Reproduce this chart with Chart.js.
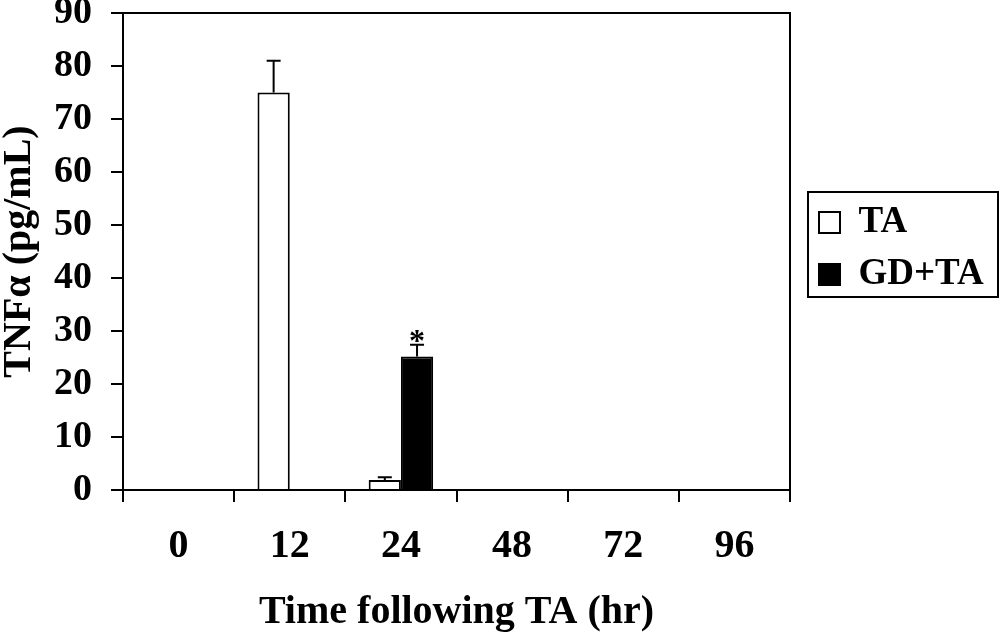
<!DOCTYPE html>
<html>
<head>
<meta charset="utf-8">
<title>TNFα following TA</title>
<script src="https://cdn.jsdelivr.net/npm/chart.js@4.4.1/dist/chart.umd.min.js"></script>
<style>
  html, body { margin: 0; padding: 0; background: #fff; }
  #wrap { width: 1000px; height: 635px; }
</style>
</head>
<body>
<div id="wrap"><canvas id="tnfChart"></canvas></div>
<script>
// values (pg/mL), null = no bar drawn
const timeLabels = ["0", "12", "24", "48", "72", "96"];
const taValues = [null, 75, 1.9, null, null, null];
const taErrors = [null, 6, 0.5, null, null, null];
const gdTaValues = [null, null, 25.2, null, null, null];
const gdTaErrors = [null, null, 2.2, null, null, null];
const gdTaMarks = [null, null, "*", null, null, null];
const yMin = 0;
const yMax = 90;
const yStep = 10;

const serif = "'Liberation Serif', 'Times New Roman', serif";

// one-sided (upper) error bars plus the significance star
const errorBars = {
  id: "errorBars",
  afterDatasetsDraw(chart) {
    const ctx = chart.ctx;
    const yScale = chart.scales.y;
    ctx.save();
    ctx.strokeStyle = "#000";
    ctx.lineWidth = 2;
    chart.data.datasets.forEach((ds, di) => {
      const meta = chart.getDatasetMeta(di);
      ds.errors.forEach((err, i) => {
        if (err == null || ds.data[i] == null) return;
        const bar = meta.data[i];
        const yTop = yScale.getPixelForValue(ds.data[i] + err);
        ctx.beginPath();
        ctx.moveTo(bar.x, bar.y);
        ctx.lineTo(bar.x, yTop);
        ctx.moveTo(bar.x - 7, yTop);
        ctx.lineTo(bar.x + 7, yTop);
        ctx.stroke();
        if (ds.marks && ds.marks[i]) {
          ctx.fillStyle = "#000";
          ctx.font = "bold 32px " + serif;
          ctx.textAlign = "center";
          ctx.textBaseline = "alphabetic";
          ctx.fillText(ds.marks[i], bar.x, yTop + 6);
        }
      });
    });
    ctx.restore();
  }
};

// top and right edges of the plot frame, box around the legend
const frames = {
  id: "frames",
  afterLayout(chart) {
    const lg = chart.legend;
    lg.left = 804;
    lg.right = 1000;
    lg.top = 189;
    lg.bottom = 635;
    lg.width = lg.right - lg.left;
    lg.height = lg.bottom - lg.top;
  },
  afterDraw(chart) {
    const ctx = chart.ctx;
    const a = chart.chartArea;
    ctx.save();
    ctx.strokeStyle = "#000";
    ctx.lineWidth = 2;
    ctx.beginPath();
    ctx.moveTo(a.left, a.top);
    ctx.lineTo(a.right, a.top);
    ctx.lineTo(a.right, a.bottom);
    ctx.stroke();
    ctx.strokeRect(808, 192, 190, 105);
    ctx.restore();
  }
};

new Chart(document.getElementById("tnfChart").getContext("2d"), {
  type: "bar",
  data: {
    labels: timeLabels,
    datasets: [
      {
        label: "TA",
        data: taValues,
        errors: taErrors,
        backgroundColor: "#fff",
        borderColor: "#000",
        borderWidth: 2,
      },
      {
        label: "GD+TA",
        data: gdTaValues,
        errors: gdTaErrors,
        marks: gdTaMarks,
        backgroundColor: "#000",
        borderColor: "#000",
        borderWidth: 2,
      },
    ],
  },
  options: {
    responsive: true,
    maintainAspectRatio: false,
    animation: false,
    layout: {
      padding: { left: 0, top: 13, right: 210, bottom: 0 },
    },
    datasets: {
      bar: { categoryPercentage: 0.58, barPercentage: 1 },
    },
    scales: {
      x: {
        grid: {
          offset: true,
          drawOnChartArea: false,
          drawTicks: true,
          tickLength: 12,
          color: "#000",
          lineWidth: 2,
        },
        border: { display: true, color: "#000", width: 2 },
        ticks: {
          color: "#000",
          padding: 21,
          font: { family: serif, size: 40, weight: "bold" },
        },
        title: {
          display: true,
          text: "Time following TA (hr)",
          color: "#000",
          padding: { top: 0, bottom: -2 },
          font: { family: serif, size: 40, weight: "bold" },
        },
        afterFit(scale) {
          scale.height = 145;
          scale.paddingLeft = 0;
          scale.paddingRight = 0;
        },
      },
      y: {
        min: yMin,
        max: yMax,
        grid: {
          drawOnChartArea: false,
          drawTicks: true,
          tickLength: 12,
          color: "#000",
          lineWidth: 2,
        },
        border: { display: true, color: "#000", width: 2 },
        ticks: {
          stepSize: yStep,
          color: "#000",
          padding: 19,
          font: { family: serif, size: 38, weight: "bold" },
        },
        title: {
          display: true,
          text: "TNFα (pg/mL)",
          color: "#000",
          padding: { top: -4, bottom: 0 },
          font: { family: serif, size: 40, weight: "bold" },
        },
        afterFit(scale) {
          scale.width = 123;
          scale.paddingTop = 0;
          scale.paddingBottom = 0;
        },
      },
    },
    plugins: {
      legend: {
        position: "chartArea",
        align: "start",
        labels: {
          boxWidth: 21,
          boxHeight: 21,
          padding: 15,
          color: "#000",
          font: { family: serif, size: 37, weight: "bold" },
        },
      },
      tooltip: { enabled: false },
    },
  },
  plugins: [errorBars, frames],
});
</script>
</body>
</html>
